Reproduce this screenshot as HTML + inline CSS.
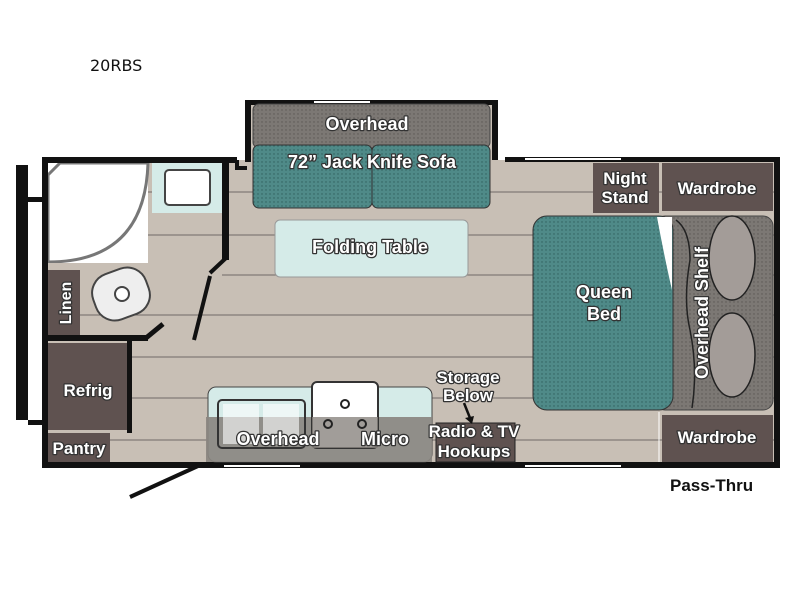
<!DOCTYPE html>
<html><head><meta charset="utf-8"><style>
html,body{margin:0;padding:0;background:#fff;}
svg{display:block;}
.l{font-family:"Liberation Sans",sans-serif;font-weight:bold;fill:#fff;stroke:#333;stroke-width:2.5px;paint-order:stroke;stroke-linejoin:round;text-anchor:middle;}
</style></head><body>
<svg width="800" height="600" viewBox="0 0 800 600" xmlns="http://www.w3.org/2000/svg">
<defs>
<pattern id="dots" width="4" height="4" patternUnits="userSpaceOnUse"><rect width="4" height="4" fill="#4f8a88"/><circle cx="2" cy="2" r="0.7" fill="#2f5f5d"/></pattern>
<pattern id="gdots" width="4" height="4" patternUnits="userSpaceOnUse"><rect width="4" height="4" fill="#7c7874"/><circle cx="2" cy="2" r="0.7" fill="#5a5654"/></pattern>
</defs>
<text x="90" y="71" font-family="'DejaVu Sans',sans-serif" font-size="16" fill="#111">20RBS</text>
<!-- floor -->
<rect x="45" y="160" width="732" height="305" fill="#c8bfb5"/>
<rect x="250" y="102" width="245" height="60" fill="#c8bfb5"/>
<g stroke="#6f6a66" stroke-width="1">
<line x1="130" y1="192" x2="775" y2="192"/><line x1="130" y1="235" x2="775" y2="235"/><line x1="130" y1="275" x2="775" y2="275"/>
<line x1="130" y1="315" x2="775" y2="315"/><line x1="130" y1="357" x2="775" y2="357"/><line x1="130" y1="398" x2="775" y2="398"/><line x1="110" y1="440" x2="775" y2="440"/>
</g>
<!-- bathroom -->
<rect x="48" y="163" width="100" height="100" fill="#fff"/>
<path d="M48,175 L48,262 Q145,262 148,163 L60,163 Z" fill="#fff" stroke="#777" stroke-width="3"/>
<rect x="152" y="163" width="70" height="50" fill="#d5ebe8"/>
<rect x="165" y="170" width="45" height="35" rx="4" fill="#fff" stroke="#444" stroke-width="2"/>
<rect x="48" y="263" width="174" height="72" fill="#c8bfb5"/>
<line x1="80" y1="315" x2="222" y2="315" stroke="#6f6a66"/>
<rect x="48" y="270" width="32" height="65" fill="#5f5250"/>
<text class="l" transform="translate(71,303) rotate(-90)" font-size="16">Linen</text>
<rect x="93" y="270" width="56" height="48" rx="20" fill="#eee" stroke="#444" stroke-width="2" transform="rotate(-20 121 294)"/>
<circle cx="122" cy="294" r="7" fill="#fff" stroke="#444" stroke-width="2"/>
<!-- refrig/pantry -->
<rect x="48" y="343" width="79" height="87" fill="#5f5250"/>
<text class="l" x="88" y="396" font-size="17">Refrig</text>
<rect x="48" y="433" width="62" height="29" fill="#5f5250"/>
<text class="l" x="79" y="454" font-size="17">Pantry</text>
<!-- walls -->
<g fill="#111">
<rect x="42" y="157" width="6" height="311"/>
<rect x="42" y="157" width="195" height="6"/>
<rect x="245" y="100" width="6" height="62"/>
<rect x="245" y="100" width="252" height="5"/>
<rect x="492" y="100" width="6" height="60"/>
<rect x="505" y="157" width="275" height="5"/>
<rect x="774" y="157" width="6" height="311"/>
<rect x="42" y="462" width="738" height="6"/>
<rect x="16" y="165" width="12" height="255"/>
<rect x="28" y="197" width="14" height="5"/><rect x="28" y="420" width="14" height="5"/>
<rect x="222" y="160" width="7" height="100"/>
<rect x="48" y="335" width="100" height="6"/>
<rect x="127" y="341" width="5" height="92"/>
</g>
<polyline points="237,160 237,168 247,168" fill="none" stroke="#111" stroke-width="4"/>
<line x1="226" y1="258" x2="210" y2="273" stroke="#111" stroke-width="4"/>
<line x1="210" y1="276" x2="194" y2="340" stroke="#111" stroke-width="4"/>
<line x1="146" y1="338" x2="163" y2="324" stroke="#111" stroke-width="5"/>
<line x1="130" y1="497" x2="198" y2="466" stroke="#111" stroke-width="4"/>
<!-- windows -->
<g fill="#fff"><rect x="314" y="101" width="56" height="2"/><rect x="525" y="158" width="96" height="2"/><rect x="224" y="465" width="76" height="2"/><rect x="525" y="465" width="96" height="2"/></g>
<!-- sofa -->
<rect x="253" y="104" width="237" height="44" rx="6" fill="url(#gdots)" stroke="#444"/>
<rect x="253" y="145" width="119" height="63" rx="6" fill="url(#dots)" stroke="#333"/>
<rect x="372" y="145" width="118" height="63" rx="6" fill="url(#dots)" stroke="#333"/>
<text class="l" x="367" y="130" font-size="18">Overhead</text>
<text class="l" x="372" y="168" font-size="18">72” Jack Knife Sofa</text>
<rect x="275" y="220" width="193" height="57" rx="5" fill="#d5ebe8" stroke="#999"/>
<text class="l" x="370" y="253" font-size="18">Folding Table</text>
<!-- kitchen -->
<rect x="208" y="387" width="224" height="75" rx="8" fill="#d5ebe8" stroke="#444"/>
<rect x="206" y="417" width="226" height="45" fill="#8a8580" opacity="0.92"/>
<rect x="218" y="400" width="87" height="48" rx="4" fill="none" stroke="#333" stroke-width="2"/>
<rect x="223" y="404" width="36" height="40" fill="#fff" opacity="0.6"/><rect x="263" y="404" width="36" height="40" fill="#fff" opacity="0.6"/>
<rect x="312" y="382" width="66" height="66" rx="5" fill="#fff" stroke="#333" stroke-width="2"/>
<rect x="312" y="417" width="66" height="31" fill="#8a8580" opacity="0.8"/>
<circle cx="345" cy="404" r="4" fill="none" stroke="#222" stroke-width="2"/>
<circle cx="328" cy="424" r="4" fill="none" stroke="#222" stroke-width="2"/><circle cx="362" cy="424" r="4" fill="none" stroke="#222" stroke-width="2"/>
<rect x="436" y="423" width="79" height="39" fill="#5f5250" stroke="#222"/>
<text class="l" x="278" y="445" font-size="18">Overhead</text>
<text class="l" x="385" y="445" font-size="18">Micro</text>
<text class="l" x="474" y="437" font-size="17">Radio &amp; TV</text>
<text class="l" x="474" y="457" font-size="17">Hookups</text>
<text class="l" x="468" y="383" font-size="17">Storage</text>
<text class="l" x="468" y="401" font-size="17">Below</text>
<line x1="464" y1="403" x2="470" y2="418" stroke="#111" stroke-width="2.5"/>
<path d="M465,418 L474,416 L472,424 Z" fill="#111"/>
<!-- bedroom -->
<rect x="593" y="163" width="66" height="50" fill="#5f5250"/>
<text class="l" x="625" y="184" font-size="17">Night</text>
<text class="l" x="625" y="203" font-size="17">Stand</text>
<rect x="662" y="163" width="111" height="48" fill="#5f5250"/>
<text class="l" x="717" y="194" font-size="17">Wardrobe</text>
<rect x="662" y="415" width="111" height="47" fill="#5f5250"/>
<text class="l" x="717" y="443" font-size="17">Wardrobe</text>
<line x1="659" y1="412" x2="659" y2="462" stroke="#fff" stroke-width="1"/>
<rect x="655" y="216" width="118" height="194" rx="10" fill="url(#gdots)" stroke="#444"/>
<rect x="533" y="216" width="140" height="194" rx="14" fill="url(#dots)" stroke="#333"/>
<path d="M657,217 Q665,260 672,290 L672,217 Z" fill="#fff"/>
<path d="M676,220 Q690,230 690,260 Q683,300 690,330 Q698,370 692,408" fill="none" stroke="#222" stroke-width="1.5"/>
<ellipse cx="732" cy="258" rx="23" ry="42" fill="#a39c98" stroke="#222" stroke-width="1.5"/>
<ellipse cx="732" cy="355" rx="23" ry="42" fill="#a39c98" stroke="#222" stroke-width="1.5"/>
<text class="l" x="604" y="298" font-size="18">Queen</text>
<text class="l" x="604" y="320" font-size="18">Bed</text>
<text class="l" transform="translate(708,313) rotate(-90)" font-size="18">Overhead Shelf</text>
<text x="670" y="491" font-family="'Liberation Sans',sans-serif" font-weight="bold" font-size="17" fill="#111">Pass-Thru</text>
</svg>
</body></html>
